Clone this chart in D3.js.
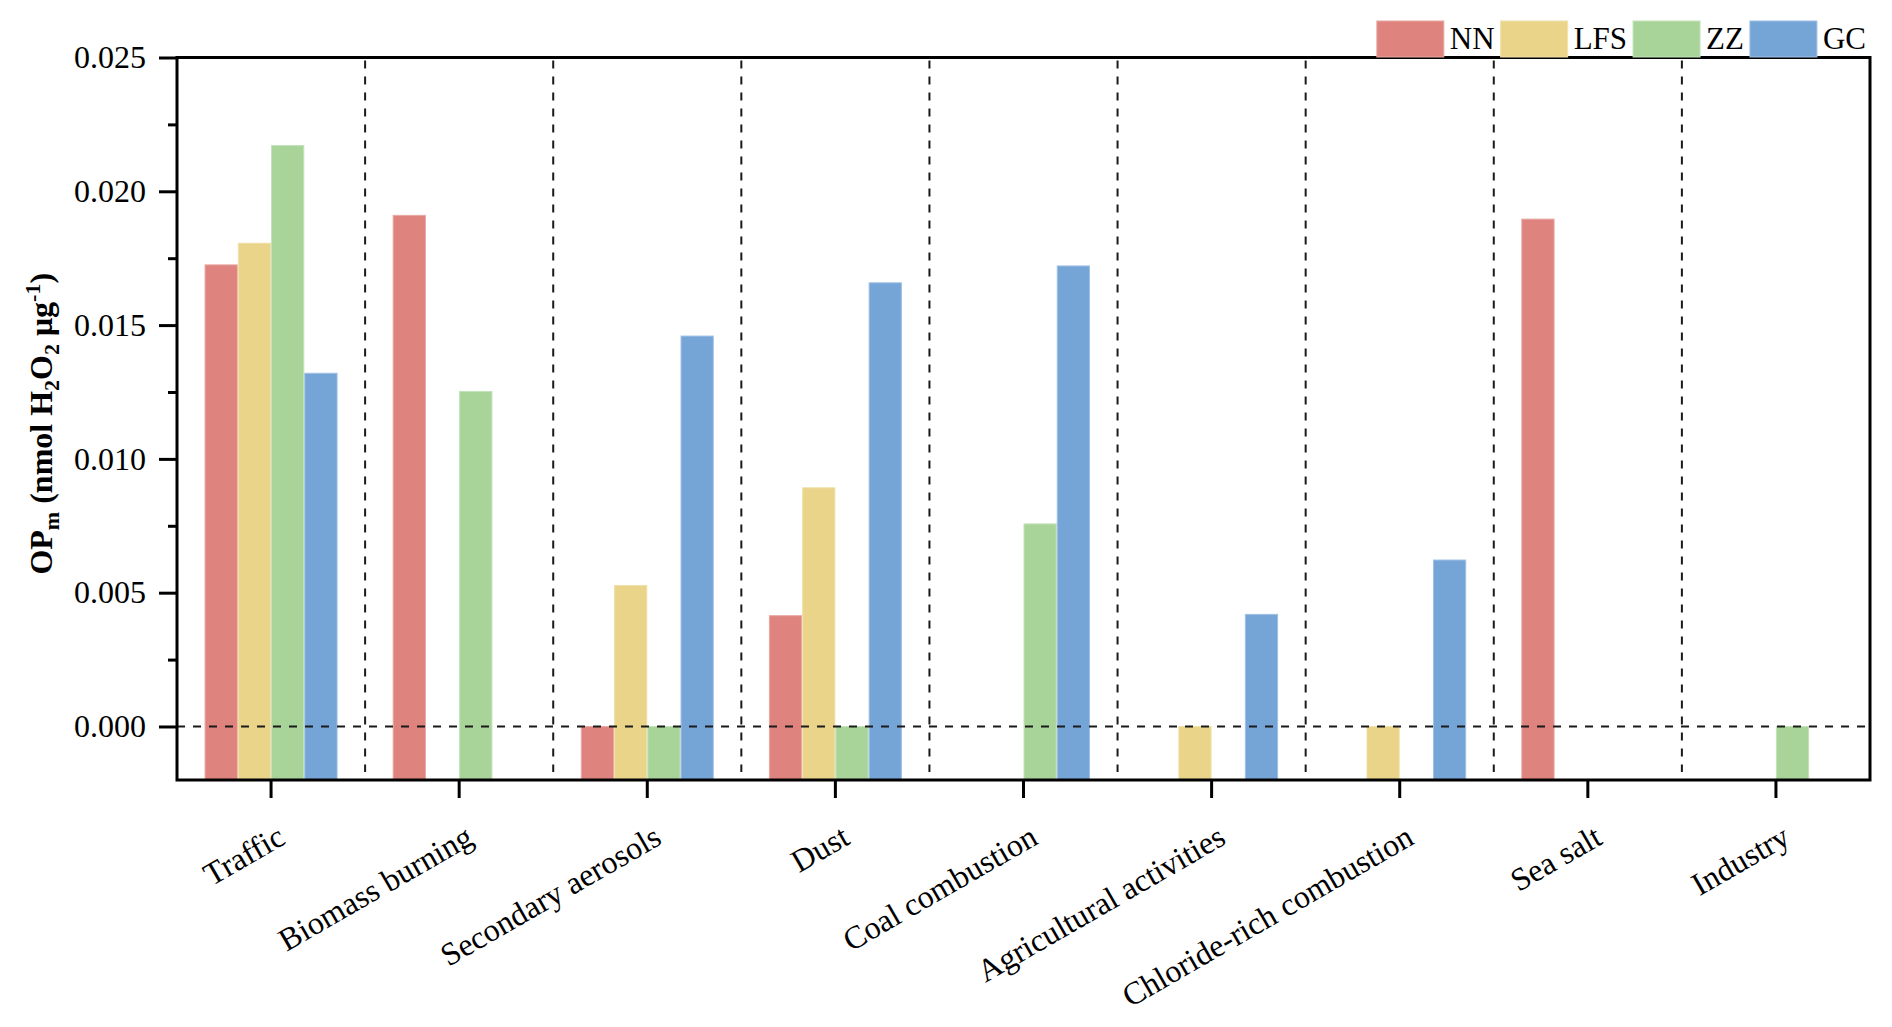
<!DOCTYPE html>
<html>
<head>
<meta charset="utf-8">
<script src="https://cdn.jsdelivr.net/npm/d3@7"></script>
<style>
  html, body { margin: 0; padding: 0; background: #fff; }
  svg { display: block; }
  text { font-family: "Liberation Serif", "Times New Roman", serif; fill: #000; }
</style>
</head>
<body>
<svg id="chart" width="1892" height="1027"></svg>
<script>
// ---- data ----
const categories = ["Traffic", "Biomass burning", "Secondary aerosols", "Dust", "Coal combustion",
  "Agricultural activities", "Chloride-rich combustion", "Sea salt", "Industry"];
const seriesNames = ["NN", "LFS", "ZZ", "GC"];
const nnValues  = [0.01725, 0.0191, 0.0, 0.00414, null, null, null, 0.01896, null];
const lfsValues = [0.01806, null, 0.00527, 0.00892, null, 0.0, 0.0, null, null];
const zzValues  = [0.02171, 0.01252, 0.0, 0.0, 0.00757, null, null, null, 0.0];
const gcValues  = [0.01320, null, 0.01459, 0.01658, 0.01721, 0.00419, 0.00622, null, null];
const yTickValues = [0, 0.005, 0.010, 0.015, 0.020, 0.025];
const yMinorTickValues = [0.0025, 0.0075, 0.0125, 0.0175, 0.0225];

const colors = { NN: "#de837d", LFS: "#e9d48a", ZZ: "#a8d49a", GC: "#75a4d6" };
const strokeColors = { NN: "#e8a8a3", LFS: "#f0e0aa", ZZ: "#c3e2b8", GC: "#a0c0e4" };

const seriesValues = { NN: nnValues, LFS: lfsValues, ZZ: zzValues, GC: gcValues };

// ---- layout ----
const svg = d3.select("#chart");
const pLeft = 177, pRight = 1870, pTop = 57.5, pBottom = 780;

const x = d3.scaleBand().domain(categories).range([pLeft, pRight]).padding(0);
const bw = x.bandwidth();
const groupW = bw * 0.707;
const xInner = d3.scaleBand().domain(seriesNames)
  .range([(bw - groupW) / 2, (bw + groupW) / 2]).padding(0);
const y = d3.scaleLinear().domain([-0.002, 0.025]).range([pBottom, pTop]);

// bars
const barData = [];
categories.forEach((c, i) => {
  seriesNames.forEach(s => {
    const v = seriesValues[s][i];
    if (v !== null && v !== undefined) barData.push({ cat: c, series: s, value: v });
  });
});

svg.append("g").selectAll("rect")
  .data(barData)
  .join("rect")
  .attr("x", d => x(d.cat) + xInner(d.series) + 0.5)
  .attr("width", xInner.bandwidth() - 1)
  .attr("y", d => y(d.value))
  .attr("height", d => y(-0.002) - y(d.value))
  .attr("fill", d => colors[d.series])
  .attr("stroke", d => strokeColors[d.series])
  .attr("stroke-width", 1);

// vertical dashed separators
const separators = categories.slice(1);
svg.append("g").selectAll("line")
  .data(separators)
  .join("line")
  .attr("x1", d => x(d)).attr("x2", d => x(d))
  .attr("y1", pTop + 3).attr("y2", pBottom - 8)
  .attr("stroke", "#1a1a1a").attr("stroke-width", 2)
  .attr("stroke-dasharray", "8,8");

// zero dashed line
svg.append("line")
  .attr("x1", pLeft).attr("x2", pRight)
  .attr("y1", y(0)).attr("y2", y(0))
  .attr("stroke", "#1a1a1a").attr("stroke-width", 2)
  .attr("stroke-dasharray", "8,8");

// frame
svg.append("rect")
  .attr("x", pLeft).attr("y", pTop)
  .attr("width", pRight - pLeft).attr("height", pBottom - pTop)
  .attr("fill", "none").attr("stroke", "#000").attr("stroke-width", 3);

// y axis
const yAxis = d3.axisLeft(y).tickValues(yTickValues).tickFormat(d3.format(".3f"))
  .tickSize(18).tickPadding(13);
const gy = svg.append("g").attr("transform", `translate(${pLeft},0)`).call(yAxis);
gy.select(".domain").remove();
gy.selectAll(".tick line").attr("stroke", "#000").attr("stroke-width", 3);
gy.selectAll(".tick text").attr("font-family", "Liberation Serif").attr("font-size", 32).attr("fill", "#000");

const yMinor = d3.axisLeft(y).tickValues(yMinorTickValues).tickFormat("").tickSize(9);
const gym = svg.append("g").attr("transform", `translate(${pLeft},0)`).call(yMinor);
gym.select(".domain").remove();
gym.selectAll(".tick line").attr("stroke", "#000").attr("stroke-width", 3);

// x axis
const xAxis = d3.axisBottom(x).tickSize(18).tickFormat("");
const gx = svg.append("g").attr("transform", `translate(0,${pBottom})`).call(xAxis);
gx.select(".domain").remove();
gx.selectAll(".tick line").attr("stroke", "#000").attr("stroke-width", 3);

// x labels rotated
svg.append("g").selectAll("text")
  .data(categories)
  .join("text")
  .attr("transform", d => `translate(${x(d) + bw / 2 + 16},${pBottom + 63}) rotate(-30)`)
  .attr("text-anchor", "end")
  .attr("font-size", 32)
  .text(d => d);

// y label
const yl = svg.append("text")
  .attr("transform", `translate(52,${(pTop + pBottom) / 2 + 5}) rotate(-90)`)
  .attr("text-anchor", "middle")
  .attr("font-weight", "bold")
  .attr("font-size", 32);
yl.append("tspan").text("OP");
yl.append("tspan").attr("font-size", 22).attr("dy", 7).text("m");
yl.append("tspan").attr("dy", -7).text(" (nmol H");
yl.append("tspan").attr("font-size", 22).attr("dy", 7).text("2");
yl.append("tspan").attr("dy", -7).text("O");
yl.append("tspan").attr("font-size", 22).attr("dy", 7).text("2");
yl.append("tspan").attr("dy", -7).text(" μg");
yl.append("tspan").attr("font-size", 22).attr("dy", -12).text("-1");
yl.append("tspan").attr("dy", 12).text(")");

// legend
const legend = svg.append("g");
const rectW = 67, rectH = 36, legendTop = 21, legendRight = 1866;
let items = [];
seriesNames.forEach(s => {
  const g = legend.append("g");
  g.append("rect").attr("x", 0).attr("y", legendTop).attr("width", rectW).attr("height", rectH)
    .attr("fill", colors[s]).attr("stroke", strokeColors[s]).attr("stroke-width", 1);
  const t = g.append("text").attr("x", rectW + 6).attr("y", 49)
    .attr("font-size", 31).text(s);
  items.push({ g, w: rectW + 6 + t.node().getComputedTextLength() });
});
const gap = 6;
const totalW = d3.sum(items, d => d.w) + gap * (items.length - 1);
let cx = legendRight - totalW;
items.forEach(it => {
  it.g.attr("transform", `translate(${cx},0)`);
  cx += it.w + gap;
});
</script>
</body>
</html>
